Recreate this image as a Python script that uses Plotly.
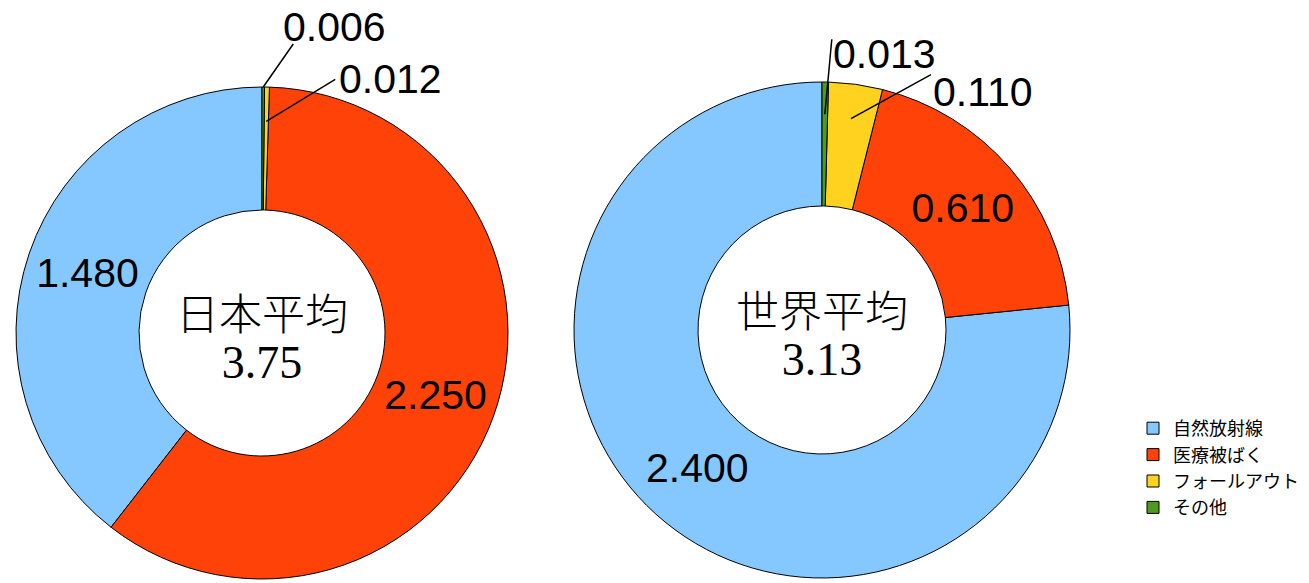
import math
import plotly.graph_objects as go

W, H = 1309, 583

categories = ["自然放射線", "医療被ばく", "フォールアウト", "その他"]
japan_values = [1.480, 2.250, 0.012, 0.006]
world_values = [2.400, 0.610, 0.110, 0.013]
japan_title = "日本平均"
world_title = "世界平均"
japan_total = "3.75"
world_total = "3.13"
colors = ["#85C8FF", "#FF4208", "#FFD21F", "#4E9A1E"]

# pie geometry in pixels (center x, center y, radius)
pies = [
    dict(values=japan_values, title=japan_title, total=japan_total, cx=262, cy=333, r=246),
    dict(values=world_values, title=world_title, total=world_total, cx=822, cy=330, r=248),
]

# outside labels for small slices: index, radius fraction of head, tail offset, text offset/anchor
small_labels = [
    [dict(i=3, rf=1.00, dx=30, dy=-43, tx=-12, ty=8, xa="left", ya="bottom"),
     dict(i=2, rf=0.86, dx=69, dy=-42, tx=2, ty=0, xa="left", ya="middle")],
    [dict(i=3, rf=0.87, dx=7, dy=-75, tx=-1, ty=-10, xa="left", ya="top"),
     dict(i=2, rf=0.86, dx=80, dy=-44, tx=0, ty=-8, xa="left", ya="top")],
]

def px2x(x):
    return x / W

def px2y(y):
    return 1 - y / H

fig = go.Figure()
shapes = []
annotations = []

for k, p in enumerate(pies):
    vals = p["values"]
    total = sum(vals)
    # plotly's counterclockwise pies end the first slice at the rotation angle;
    # rotate so the first slice starts at 12 o'clock and runs counterclockwise
    rot = -360.0 * vals[0] / total
    rot = ((rot + 180) % 360) - 180
    fig.add_trace(go.Pie(
        labels=categories,
        values=vals,
        text=[f"{v:.3f}" for v in vals],
        textinfo="text",
        textposition=["inside", "inside", "none", "none"],
        insidetextorientation="horizontal",
        insidetextfont=dict(family="Liberation Sans, Arial", size=41, color="black"),
        marker=dict(colors=colors, line=dict(color="black", width=1)),
        sort=False,
        direction="counterclockwise",
        rotation=rot,
        hole=0.5,
        domain=dict(x=[px2x(p["cx"] - p["r"]), px2x(p["cx"] + p["r"])],
                    y=[px2y(p["cy"] + p["r"]), px2y(p["cy"] - p["r"])]),
        showlegend=(k == 0),
        hoverinfo="label+value",
    ))
    # center text (title + total), one annotation with two lines
    center_text = (
        f"<span style='font-family:Noto Sans CJK JP;font-size:43px;font-weight:300'>{p['title']}</span>"
        f"<br><span style='font-family:Liberation Serif, Times New Roman;font-size:46px'>{p['total']}</span>"
    )
    annotations.append(dict(x=px2x(p["cx"]), y=px2y(p["cy"]), xref="paper", yref="paper",
                            text=center_text, showarrow=False, yshift=-1,
                            xanchor="center", yanchor="middle", align="center",
                            font=dict(family="Liberation Serif, Times New Roman", size=37, color="black")))
    # small slice labels with leader lines
    cum = [0]
    for v in vals:
        cum.append(cum[-1] + v)
    for lab in small_labels[k]:
        i = lab["i"]
        mid = (cum[i] + cum[i + 1]) / 2 / total  # fraction counterclockwise from top
        ang = 2 * math.pi * mid
        hx = p["cx"] - math.sin(ang) * p["r"] * lab["rf"]
        hy = p["cy"] - math.cos(ang) * p["r"] * lab["rf"]
        tx = hx + lab["dx"]
        ty = hy + lab["dy"]
        shapes.append(dict(type="line", xref="paper", yref="paper",
                           x0=px2x(hx), y0=px2y(hy), x1=px2x(tx), y1=px2y(ty),
                           line=dict(color="black", width=1.5)))
        annotations.append(dict(x=px2x(tx + lab["tx"]), y=px2y(ty + lab["ty"]),
                                xref="paper", yref="paper", text=f"{vals[i]:.3f}",
                                showarrow=False, xanchor=lab["xa"], yanchor=lab["ya"],
                                font=dict(family="Liberation Sans, Arial", size=41, color="black")))

fig.update_layout(
    width=W, height=H,
    margin=dict(l=0, r=0, t=0, b=0),
    paper_bgcolor="white",
    plot_bgcolor="white",
    shapes=shapes,
    annotations=annotations,
    legend=dict(x=px2x(1133), y=px2y(410), xanchor="left", yanchor="top",
                font=dict(family="Noto Sans CJK JP", size=18, color="black"),
                tracegroupgap=0, bgcolor="rgba(0,0,0,0)"),
)

fig.write_html("out.html")
